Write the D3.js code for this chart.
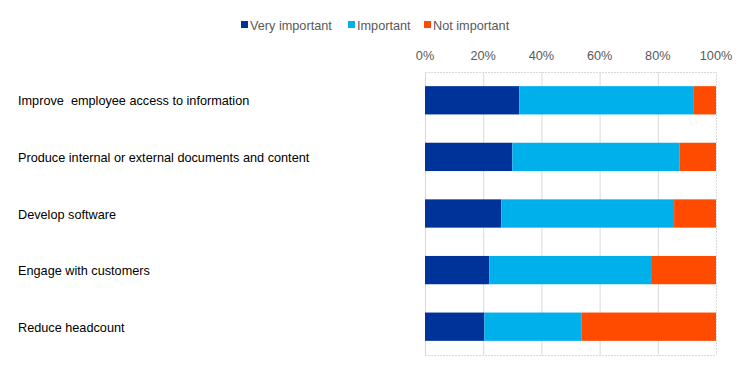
<!DOCTYPE html>
<html>
<head>
<meta charset="utf-8">
<script src="https://cdn.jsdelivr.net/npm/d3@7"></script>
<style>
  body { margin: 0; background: #fff; }
  svg text { font-family: "Liberation Sans", Arial, sans-serif; }
</style>
</head>
<body>
<div id="chart"></div>
<script>
// data
var categories = [
    "Improve  employee access to information",
    "Produce internal or external documents and content",
    "Develop software",
    "Engage with customers",
    "Reduce headcount"
];
var seriesNames = ["Very important", "Important", "Not important"];
var veryImportant = [32.4, 30.0, 26.2, 22.1, 20.4];
var important     = [60.0, 57.4, 59.4, 55.9, 33.3];
var notImportant  = [7.6, 12.6, 14.4, 22.0, 46.3];
var tickValues = [0, 20, 40, 60, 80, 100];
var colors = ["#003399", "#00B0EB", "#FF4B00"];

var width = 744, height = 372;
var plotLeft = 425, plotRight = 716, plotTop = 72, plotBottom = 355;
var fontSize = "12.7px";

var svg = d3.select("#chart").append("svg")
    .attr("width", width)
    .attr("height", height);

var x = d3.scaleLinear().domain([0, 100]).range([plotLeft, plotRight]);
var y = d3.scaleBand().domain(categories).range([plotTop, plotBottom]).paddingInner(0.5).paddingOuter(0.25);

// grid lines
svg.append("g")
    .selectAll("line")
    .data(tickValues)
  .enter().append("line")
    .attr("x1", function(d) { return x(d) + 0.5; })
    .attr("x2", function(d) { return x(d) + 0.5; })
    .attr("y1", plotTop)
    .attr("y2", plotBottom)
    .style("stroke", "#d9d9d9")
    .style("stroke-width", 1)
    .style("stroke-dasharray", function(d) { return d === 100 ? "2,1" : null; });

// dotted plot border top/bottom
[plotTop, plotBottom].forEach(function(yy) {
    svg.append("line")
        .attr("x1", plotLeft).attr("x2", plotRight)
        .attr("y1", yy + 0.5).attr("y2", yy + 0.5)
        .style("stroke", "#d9d9d9")
        .style("stroke-dasharray", "2,1");
});

// stacked rows
var rows = categories.map(function(c, i) {
    return { cat: c, vals: [veryImportant[i], important[i], notImportant[i]] };
});

var row = svg.selectAll(".row")
    .data(rows)
  .enter().append("g")
    .attr("class", "row");

row.selectAll("rect")
    .data(function(d) {
        var acc = 0;
        return d.vals.map(function(v, k) {
            var seg = { cat: d.cat, x0: acc, x1: acc + v, k: k };
            acc += v;
            return seg;
        });
    })
  .enter().append("rect")
    .attr("x", function(d) { return x(d.x0); })
    .attr("y", function(d) { return y(d.cat); })
    .attr("width", function(d) { return x(d.x1) - x(d.x0); })
    .attr("height", y.bandwidth())
    .style("fill", function(d) { return colors[d.k]; });

// top axis labels
svg.append("g")
    .selectAll("text")
    .data(tickValues)
  .enter().append("text")
    .attr("x", function(d) { return x(d); })
    .attr("y", 60)
    .attr("text-anchor", "middle")
    .style("font-size", fontSize)
    .style("fill", "#595959")
    .text(function(d) { return d + "%"; });

// category labels
svg.append("g")
    .selectAll("text")
    .data(categories)
  .enter().append("text")
    .attr("x", 18)
    .attr("y", function(d) { return y(d) + y.bandwidth() / 2 + 5; })
    .style("font-size", fontSize)
    .style("fill", "#000")
    .style("white-space", "pre")
    .text(function(d) { return d; });

// legend
var legendX = [241, 348, 424];
var legend = svg.append("g")
    .selectAll("g")
    .data(seriesNames)
  .enter().append("g")
    .attr("transform", function(d, i) { return "translate(" + legendX[i] + ",21)"; });

legend.append("rect")
    .attr("width", 7)
    .attr("height", 7)
    .style("fill", function(d, i) { return colors[i]; });

legend.append("text")
    .attr("x", 9)
    .attr("y", 8.5)
    .style("font-size", fontSize)
    .style("fill", "#595959")
    .text(function(d) { return d; });
</script>
</body>
</html>
